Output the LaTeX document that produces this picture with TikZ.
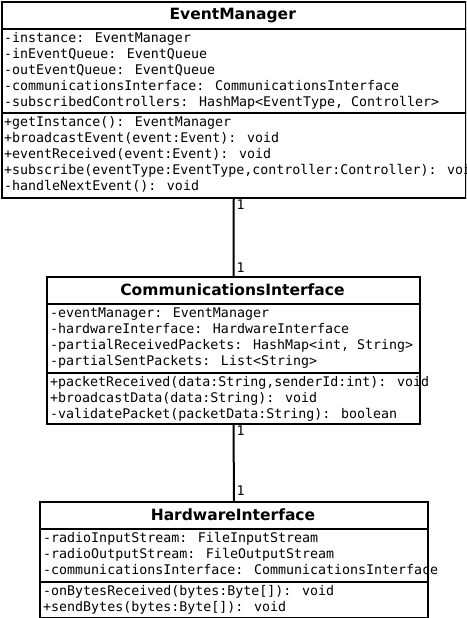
\documentclass[tikz,border=0pt]{standalone}
\usepackage{fontspec}
\newfontfamily\umlmono{DejaVu Sans Mono}
\newfontfamily\umlsans{DejaVu Sans}
\begin{document}
\begin{tikzpicture}[x=1pt,y=-1pt,
  box/.style={draw=black,line width=2pt,anchor=north west,inner sep=0pt,minimum height=#1},
  mono/.style={font=\umlmono\fontsize{13.3}{16}\selectfont,anchor=base west,inner sep=0pt},
  ttl/.style={font=\umlsans\bfseries\fontsize{15.5}{18}\selectfont,anchor=base,inner sep=0pt},
  link/.style={line width=2pt},
]
\useasboundingbox (0,0) rectangle (466,618);
\clip (0,0) rectangle (466,618);
% EventManager
\node[box=27pt,minimum width=463.5pt] (emT) at (1,1) {};
\node[box=84pt,minimum width=463.5pt] (emA) at (1,28) {};
\node[box=84.5pt,minimum width=463.5pt] (emO) at (1,112) {};
\node[ttl] (emN) at (232.75,20) {EventManager};
\foreach \t [count=\i] in {-instance: EventManager,-inEventQueue: EventQueue,-outEventQueue: EventQueue,-communicationsInterface: CommunicationsInterface,{-subscribedControllers: HashMap<EventType, Controller>}}
  \node[mono] (ema\i) at (4,{42.5+16*(\i-1)}) {\t};
\foreach \t [count=\i] in {+getInstance(): EventManager,+broadcastEvent(event:Event): void,+eventReceived(event:Event): void,{+subscribe(eventType:EventType,controller:Controller): void},-handleNextEvent(): void}
  \node[mono] (emo\i) at (4,{126.5+16*(\i-1)}) {\t};
% CommunicationsInterface
\node[box=27pt,minimum width=373pt] (ciT) at (46,276) {};
\node[box=69pt,minimum width=373pt] (ciA) at (46,303) {};
\node[box=51pt,minimum width=373pt] (ciO) at (46,372) {};
\node[ttl] (ciN) at (232.5,295) {CommunicationsInterface};
\foreach \t [count=\i] in {-eventManager: EventManager,-hardwareInterface: HardwareInterface,{-partialReceivedPackets: HashMap<int, String>},-partialSentPackets: List<String>}
  \node[mono] (cia\i) at (50,{317.5+16*(\i-1)}) {\t};
\foreach \t [count=\i] in {{+packetReceived(data:String,senderId:int): void},+broadcastData(data:String): void,-validatePacket(packetData:String): boolean}
  \node[mono] (cio\i) at (50,{386.5+16*(\i-1)}) {\t};
% HardwareInterface
\node[box=27pt,minimum width=388pt] (hiT) at (39,501) {};
\node[box=53pt,minimum width=388pt] (hiA) at (39,528) {};
\node[box=36pt,minimum width=388pt] (hiO) at (39,581) {};
\node[ttl] (hiN) at (233,520) {HardwareInterface};
\foreach \t [count=\i] in {-radioInputStream: FileInputStream,-radioOutputStream: FileOutputStream,-communicationsInterface: CommunicationsInterface}
  \node[mono] (hia\i) at (43,{542.5+16*(\i-1)}) {\t};
\foreach \t [count=\i] in {-onBytesReceived(bytes:Byte[]): void,+sendBytes(bytes:Byte[]): void}
  \node[mono] (hio\i) at (43,{595.5+16*(\i-1)}) {\t};
% connectors
\draw[link] (emO.south) -- (ciT.north);
\draw[link] (ciO.south) -- (hiT.north);
\node[mono] (m1) at (236.5,209) {1};
\node[mono] (m2) at (236.5,272) {1};
\node[mono] (m3) at (236.5,435.5) {1};
\node[mono] (m4) at (236.5,495.5) {1};
\end{tikzpicture}
\end{document}
